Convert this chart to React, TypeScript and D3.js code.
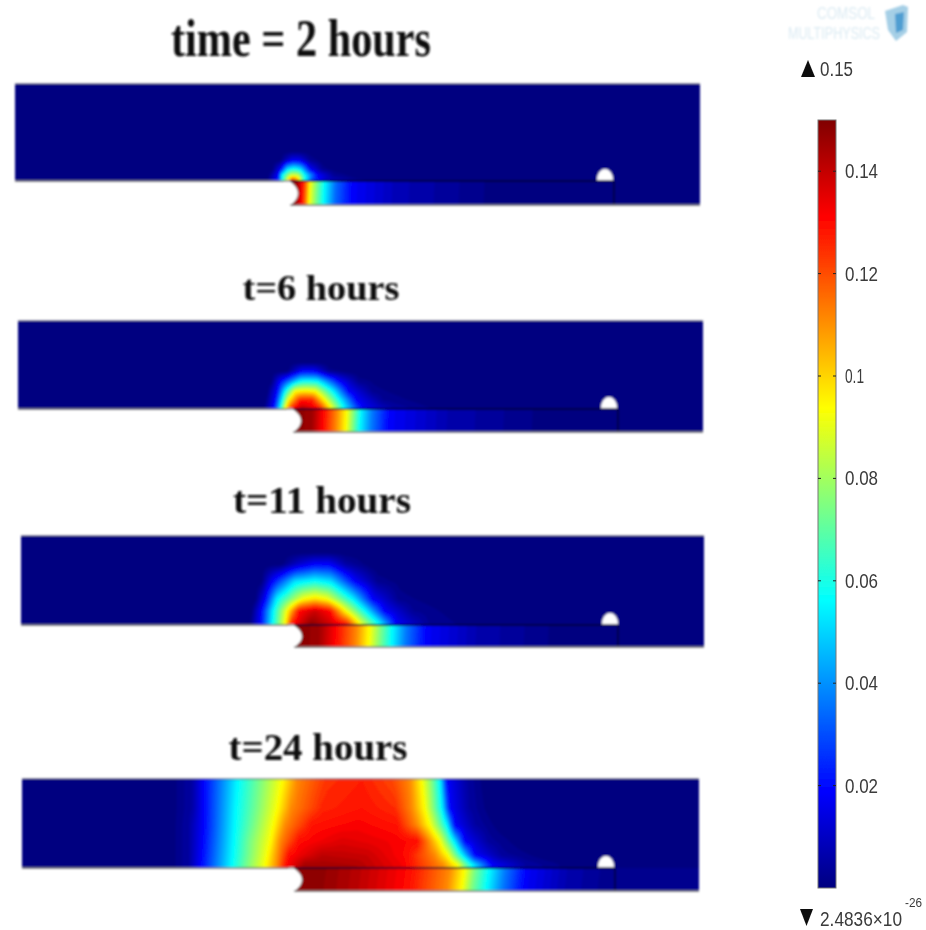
import React from "react";
import * as d3 from "d3";

type Knot = [number, number];
type Row = { h: number; knots: Knot[] };

// Field values, in thousandths of the colour-bar unit, along rows of each panel.
// h = height above the interface; knot = [distance from the notch, value].
const upper2h: Row[] = [
  { h: 0, knots: [[-26,0],[-15,19],[-10,56],[-4,100],[1,135],[6,110],[11,70],[20,30],[34,12],[65,3],[110,0]] },
  { h: 6, knots: [[-24,0],[-14,19],[-10,56],[-1,88],[6,85],[13,56],[26,19],[42,4],[65,0]] },
  { h: 12, knots: [[-20,0],[-11,19],[-5,52],[2,60],[9,52],[18,19],[31,3],[46,0]] },
  { h: 21, knots: [[-12,0],[0,17],[7,17],[18,4],[30,0]] },
  { h: 30, knots: [[-50,0],[50,0]] },
  { h: 97, knots: [[-50,0],[50,0]] },
];
const lower2h: Knot[] = [[0,150],[6,145],[11,130],[15,112],[18,94],[25,75],[33,56],[44,35],[61,19],[105,9],[205,1],[330,0]];

const upper6h: Row[] = [
  { h: 0, knots: [[-34,0],[-24,19],[-17,56],[-12,94],[-5,131],[5,145],[23,131],[35,94],[48,56],[66,19],[96,6],[155,0]] },
  { h: 9, knots: [[-32,0],[-22,19],[-15,56],[-9,94],[3,128],[15,128],[28,94],[43,56],[60,19],[86,4],[135,0]] },
  { h: 18, knots: [[-30,0],[-20,19],[-12,56],[-2,94],[8,97],[18,94],[36,56],[52,19],[76,3],[115,0]] },
  { h: 28, knots: [[-26,0],[-17,19],[3,56],[10,58],[20,56],[43,19],[62,3],[92,0]] },
  { h: 38, knots: [[-10,0],[5,19],[17,19],[32,3],[52,0]] },
  { h: 47, knots: [[-50,0],[50,0]] },
  { h: 88, knots: [[-50,0],[50,0]] },
];
const lower6h: Knot[] = [[0,150],[16,146],[27,131],[40,112],[50,94],[57,75],[64,56],[75,38],[93,19],[150,8],[250,1],[330,0]];

const upper11h: Row[] = [
  { h: 0, knots: [[-52,0],[-41,19],[-29,56],[-16,94],[-9,131],[10,150],[46,131],[60,94],[80,56],[96,19],[128,4],[185,0]] },
  { h: 14, knots: [[-50,0],[-40,19],[-28,56],[-14,94],[-2,131],[14,140],[29,131],[45,94],[65,56],[84,19],[112,4],[165,0]] },
  { h: 26, knots: [[-46,0],[-36,19],[-24,56],[2,94],[14,100],[26,94],[52,56],[72,19],[98,3],[145,0]] },
  { h: 44, knots: [[-40,0],[-29,19],[-6,52],[14,58],[30,52],[54,19],[77,3],[112,0]] },
  { h: 61, knots: [[-20,0],[-2,12],[13,19],[28,19],[45,6],[70,0]] },
  { h: 73, knots: [[-50,0],[50,0]] },
  { h: 89, knots: [[-50,0],[50,0]] },
];
const lower11h: Knot[] = [[0,150],[19,146],[36,131],[56,112],[69,94],[80,75],[92,56],[105,38],[126,19],[175,8],[260,1],[320,0]];

const upper24h: Row[] = [
  { h: 3, knots: [[-128,0],[-108,6],[-97,19],[-66,56],[-50,75],[-32,94],[-20,112],[-11,131],[8,146],[60,144],[105,134],[146,112],[161,94],[168,75],[176,56],[196,19],[228,6],[280,0]] },
  { h: 13, knots: [[-128,0],[-108,6],[-96,19],[-65,56],[-48,75],[-30,94],[-19,112],[-8,131],[25,142],[70,140],[110,131],[138,112],[151,94],[158,75],[165,56],[178,19],[205,5],[250,0]] },
  { h: 27, knots: [[-128,0],[-108,6],[-95,19],[-64,56],[-47,75],[-27,94],[-17,112],[2,131],[45,137],[90,134],[120,131],[132,112],[143,94],[150,75],[157,56],[168,19],[192,5],[225,0]] },
  { h: 43, knots: [[-128,0],[-108,6],[-94,19],[-63,56],[-43,75],[-24,94],[-12,112],[15,130],[60,133],[100,130],[120,112],[133,94],[142,75],[150,56],[158,19],[178,6],[205,0]] },
  { h: 60, knots: [[-128,0],[-105,6],[-94,19],[-62,56],[-40,75],[-20,94],[-6,112],[25,127],[65,130],[98,126],[115,112],[128,94],[137,75],[145,56],[153,19],[172,6],[195,0]] },
  { h: 89, knots: [[-128,0],[-105,6],[-94,19],[-60,56],[-37,75],[-15,94],[0,112],[30,125],[65,128],[95,122],[113,112],[125,94],[135,75],[143,56],[150,19],[170,6],[190,0]] },
];
const lower24h: Knot[] = [[0,150],[30,148],[60,143],[113,131],[153,112],[168,94],[178,75],[193,56],[208,38],[230,19],[270,8],[320,2]];

const titles = ["time = 2 hours", "t=6 hours", "t=11 hours", "t=24 hours"];
const barTicks = [0.14, 0.12, 0.1, 0.08, 0.06, 0.04, 0.02];
const barMax = 0.15;
const maxLabel = "0.15";
const minLabel = "2.4836×10";
const minExponent = "-26";
const logoLines = ["COMSOL", "MULTIPHYSICS"];

// Layout
const panels = [
  { upper: upper2h, lower: lower2h, left: 15, right: 700, top: 84, mid: 181, bottom: 205, x0: 292, tip: 298, dome: 605, line: 614, title: { x: 301, y: 56, size: 52, len: 260 } },
  { upper: upper6h, lower: lower6h, left: 18, right: 703, top: 321, mid: 409, bottom: 432, x0: 297, tip: 301, dome: 609, line: 618, title: { x: 321, y: 300, size: 35, len: 157 } },
  { upper: upper11h, lower: lower11h, left: 21, right: 704, top: 536, mid: 625, bottom: 647, x0: 301, tip: 302, dome: 610, line: 618, title: { x: 322, y: 513, size: 38, len: 178 } },
  { upper: upper24h, lower: lower24h, left: 22, right: 699, top: 779, mid: 868, bottom: 891, x0: 297, tip: 302, dome: 606, line: 615, title: { x: 318, y: 760, size: 38, len: 179 } },
];

const jet = d3
  .scaleLinear<string>()
  .domain([0, 0.125, 0.375, 0.625, 0.875, 1].map((f) => f * 150))
  .range(["#000080", "#0000ff", "#00ffff", "#ffff00", "#ff0000", "#800000"])
  .clamp(true);

const levels = d3.range(2, 151, 2);
const CELL = 2;
const PAD = 3;

function profile(knots: Knot[]) {
  return d3
    .scaleLinear()
    .domain(knots.map((k) => k[0]))
    .range(knots.map((k) => k[1]))
    .clamp(true);
}

function Field({ rows, x1, x2, y1, y2, x0, heightAt, id }: { rows: Row[]; x1: number; x2: number; y1: number; y2: number; x0: number; heightAt: (y: number) => number; id: string }) {
  const nx = Math.ceil((x2 - x1) / CELL) + PAD * 2;
  const ny = Math.ceil((y2 - y1) / CELL) + PAD * 2;
  const sx = d3.scaleLinear().domain([PAD, nx - PAD]).range([x1, x1 + (nx - 2 * PAD) * CELL]);
  const sy = d3.scaleLinear().domain([PAD, ny - PAD]).range([y1, y1 + (ny - 2 * PAD) * CELL]);
  const profs = rows.map((r) => profile(r.knots));
  const hs = rows.map((r) => r.h);
  const values = new Array(nx * ny);
  const col = new Array(hs.length);
  const byH = d3.scaleLinear().domain(hs).clamp(true);
  for (let i = 0; i < nx; i++) {
    const rel = sx(i + 0.5) - x0;
    for (let k = 0; k < profs.length; k++) col[k] = profs[k](rel);
    byH.range(col.slice());
    for (let j = 0; j < ny; j++) values[j * nx + i] = byH(heightAt(sy(j + 0.5)));
  }
  const cs = d3.contours().size([nx, ny]).thresholds(levels)(values);
  const path = d3.geoPath(
    d3.geoTransform({
      point(x: number, y: number) {
        (this as any).stream.point(sx(x), sy(y));
      },
    })
  );
  return (
    <g clipPath={`url(#${id})`}>
      <clipPath id={id}>
        <rect x={x1} y={y1} width={x2 - x1} height={y2 - y1} />
      </clipPath>
      <rect x={x1} y={y1} width={x2 - x1} height={y2 - y1} fill={jet(0)} />
      {cs.map((c, i) =>
        c.coordinates.length ? <path key={i} d={path(c as any) || ""} fill={jet(c.value)} /> : null
      )}
    </g>
  );
}

export default function App() {
  const barY = d3.scaleLinear().domain([0, barMax]).range([888, 120]);
  const barStops = d3.range(0, 1.0001, 0.125);
  return (
    <svg width={926} height={930} style={{ position: "absolute", left: 0, top: 0, display: "block", background: "#fff" }}>
      <defs>
        <filter id="soft" x="-2%" y="-2%" width="104%" height="104%">
          <feGaussianBlur stdDeviation="0.9" />
        </filter>
        <filter id="softText" x="-5%" y="-10%" width="110%" height="120%">
          <feGaussianBlur stdDeviation="0.6" />
        </filter>
        <linearGradient id="barGrad" x1="0" y1="1" x2="0" y2="0">
          {barStops.map((s) => (
            <stop key={s} offset={s} stopColor={jet(s * 150)} />
          ))}
        </linearGradient>
      </defs>

      {panels.map((p, i) => {
        const lowerRows: Row[] = [
          { h: 0, knots: p.lower },
          { h: 1, knots: p.lower.map(([x, v]) => [x + (i === 3 ? -3 : -1), v] as Knot) },
        ];
        const notchLeft = p.tip - 10;
        const midY = (p.mid + p.bottom) / 2;
        return (
          <g key={i} filter="url(#soft)">
            <Field id={`u${i}`} rows={p.upper} x1={p.left} x2={p.right} y1={p.top} y2={p.mid} x0={p.x0} heightAt={(y) => p.mid - y} />
            <Field id={`l${i}`} rows={lowerRows} x1={notchLeft} x2={p.right} y1={p.mid} y2={p.bottom} x0={p.x0} heightAt={(y) => (y - p.mid) / (p.bottom - p.mid)} />
            <path
              d={`M${notchLeft - 2},${p.mid} L${p.tip - 8},${p.mid} Q${p.tip + 8},${midY} ${p.tip - 7},${p.bottom} L${notchLeft - 2},${p.bottom} Z`}
              fill="#fff"
              stroke="#666"
              strokeWidth={0.8}
            />
            <rect x={notchLeft - 3} y={p.mid - 1} width={5} height={p.bottom - p.mid + 2} fill="#fff" />
            <line x1={p.left} x2={p.tip - 8} y1={p.mid} y2={p.mid} stroke="#777" strokeWidth={1.4} />
            <line x1={p.tip - 8} x2={p.line} y1={p.mid} y2={p.mid} stroke="#000030" strokeWidth={1.4} />
            <line x1={p.line} x2={p.line} y1={p.mid} y2={p.bottom} stroke="#000030" strokeWidth={1.4} />
            <line x1={p.tip - 8} x2={p.right} y1={p.bottom} y2={p.bottom} stroke="#777" strokeWidth={1.4} />
            <line x1={p.left} x2={p.right} y1={p.top} y2={p.top} stroke="#556" strokeWidth={1} />
            <path
              d={`M${p.dome - 8},${p.mid - 1} A8,11 0 0 1 ${p.dome + 8},${p.mid - 1} Z`}
              fill="#fff"
              stroke="#ddd"
              strokeWidth={0.5}
            />
            <text
              x={p.title.x}
              y={p.title.y}
              textAnchor="middle"
              fontFamily="'Liberation Serif', serif"
              fontWeight="bold"
              fontSize={p.title.size}
              textLength={p.title.len}
              lengthAdjust="spacingAndGlyphs"
              fill="#111"
            >
              {titles[i]}
            </text>
          </g>
        );
      })}

      {/* logo */}
      <g filter="url(#soft)" fontFamily="'Liberation Sans', sans-serif" fill="#dcebf3">
        <text x={846} y={19} textAnchor="middle" fontSize={17} textLength={58} lengthAdjust="spacingAndGlyphs">{logoLines[0]}</text>
        <text x={834} y={39} textAnchor="middle" fontSize={17} textLength={92} lengthAdjust="spacingAndGlyphs">{logoLines[1]}</text>
        <path d="M885,11 L903,5 L908,7 L907,32 L896,41 L888,30 Z" fill="#a5cfe6" />
        <path d="M895,14 L904,12 L903,30 L896,33 Z" fill="#4f9ed2" />
      </g>

      {/* colour bar */}
      <g filter="url(#softText)">
        <rect x={818} y={barY(barMax)} width={18} height={barY(0) - barY(barMax)} fill="url(#barGrad)" stroke="#777" strokeWidth={1} />
        {barTicks.map((t) => (
          <g key={t}>
            <line x1={818} x2={821} y1={barY(t)} y2={barY(t)} stroke="#222" />
            <line x1={833} x2={836} y1={barY(t)} y2={barY(t)} stroke="#222" />
          </g>
        ))}
        <g fontFamily="'Liberation Sans', sans-serif" fontSize={20} fill="#3a3a3a">
          {barTicks.map((t) => (
            <text key={t} x={845} y={barY(t) + 7} textLength={t === 0.1 ? 19 : 33} lengthAdjust="spacingAndGlyphs">
              {d3.format("~g")(t)}
            </text>
          ))}
          <text x={820} y={76} textLength={33} lengthAdjust="spacingAndGlyphs">{maxLabel}</text>
          <text x={820} y={926} textLength={82} lengthAdjust="spacingAndGlyphs">{minLabel}</text>
          <text x={905} y={907} fontSize={12} textLength={17} lengthAdjust="spacingAndGlyphs">{minExponent}</text>
        </g>
        <path d="M808,60 L815,77 L801,77 Z" fill="#111" />
        <path d="M800,909 L813,909 L806.5,926 Z" fill="#111" />
      </g>
    </svg>
  );
}
